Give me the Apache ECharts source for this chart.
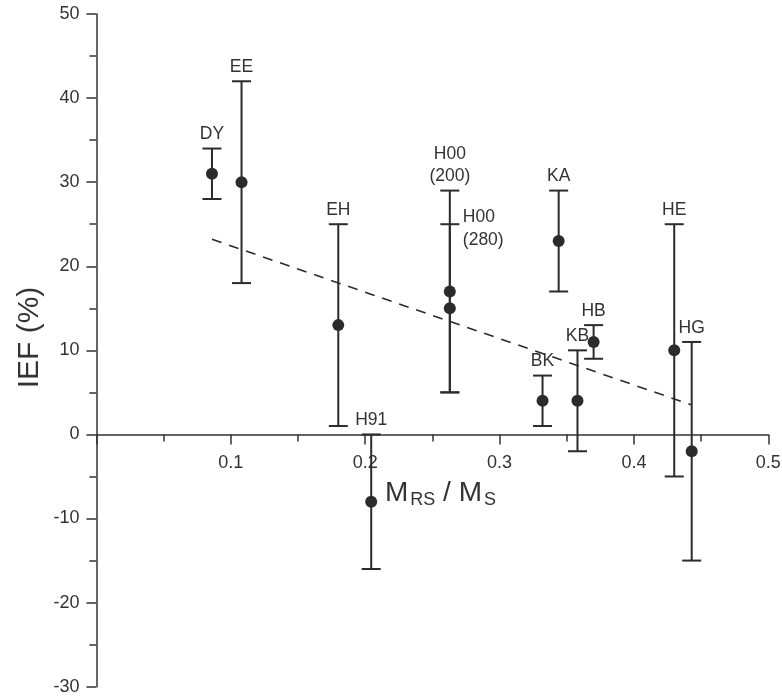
<!DOCTYPE html>
<html>
<head>
<meta charset="utf-8">
<script src="https://cdn.jsdelivr.net/npm/echarts@6/dist/echarts.min.js"></script>
<style>
  html, body { margin: 0; padding: 0; background: #fff; }
  #chart { width: 782px; height: 697px; }
</style>
</head>
<body>
<div id="chart"></div>
<script>
// Study labels, mass ratio M_RS / M_S, IEF (%) and its error range
const names = ['DY', 'EE', 'EH', 'H91', 'H00\n(200)', 'H00\n(280)', 'KA', 'BK', 'KB', 'HB', 'HE', 'HG'];
const ratio = [0.086, 0.108, 0.180, 0.2045, 0.263, 0.263, 0.344, 0.332, 0.358, 0.370, 0.430, 0.443];
const ief   = [31, 30, 13, -8, 17, 15, 23, 4, 4, 11, 10, -2];
const iefLow  = [28, 18, 1, -16, 5, 5, 17, 1, -2, 9, -5, -15];
const iefHigh = [34, 42, 25, 0, 29, 25, 29, 7, 10, 13, 25, 11];

// Linear trend drawn through the data range
const trendX = [0.086, 0.443];
const trendY = [23.2, 3.5];

// Axis ticks
const xTicks = [0, 0.1, 0.2, 0.3, 0.4, 0.5];
const yTicks = [-30, -20, -10, 0, 10, 20, 30, 40, 50];

const ink = '#2b2b2b';
const font = 'Liberation Sans, Arial, Helvetica, sans-serif';

const gridTop = 14, gridBottom = 10.3;
const plotHeight = 697 - gridTop - gridBottom;
const yMin = yTicks[0], yMax = yTicks[yTicks.length - 1];
// Lift the horizontal axis from the bottom edge up to the y = 0 line
const xAxisOffset = -plotHeight * (0 - yMin) / (yMax - yMin);

const barData = ratio.map((x, i) => [x, ief[i], iefLow[i], iefHigh[i], i]);

function renderBar(params, api) {
  const x = api.value(0);
  const i = api.value(4);
  const c = api.coord([x, api.value(1)]);
  const lo = api.coord([x, api.value(2)]);
  const hi = api.coord([x, api.value(3)]);
  const half = 9.5;
  const lineStyle = { stroke: ink, lineWidth: 2 };
  const name = names[i];
  const sideLabel = name === 'H00\n(280)';
  return {
    type: 'group',
    children: [
      { type: 'line', shape: { x1: c[0], y1: lo[1], x2: c[0], y2: hi[1] }, style: lineStyle },
      { type: 'line', shape: { x1: c[0] - half, y1: lo[1], x2: c[0] + half, y2: lo[1] }, style: lineStyle },
      { type: 'line', shape: { x1: c[0] - half, y1: hi[1], x2: c[0] + half, y2: hi[1] }, style: lineStyle },
      { type: 'circle', shape: { cx: c[0], cy: c[1], r: 6 }, style: { fill: ink } },
      {
        type: 'text',
        style: {
          text: name,
          x: sideLabel ? c[0] + 13 : c[0],
          y: sideLabel ? hi[1] - 18 : hi[1] - 3,
          align: sideLabel ? 'left' : 'center',
          verticalAlign: sideLabel ? 'top' : 'bottom',
          fill: '#333',
          font: '17.5px ' + font,
          lineHeight: 22.5
        }
      }
    ]
  };
}

const chart = echarts.init(document.getElementById('chart'), null, { renderer: 'canvas' });
chart.setOption({
  animation: false,
  backgroundColor: '#fff',
  grid: { left: 96.4, right: 13.7, top: gridTop, bottom: gridBottom, containLabel: false, outerBoundsMode: 'none' },
  xAxis: {
    type: 'value',
    min: xTicks[0],
    max: xTicks[xTicks.length - 1],
    interval: 0.1,
    position: 'bottom',
    offset: xAxisOffset,
    axisLine: { show: true, onZero: false, lineStyle: { color: '#333', width: 1.5 } },
    axisTick: { show: true, length: 10, lineStyle: { color: '#333', width: 1.5 } },
    minorTick: { show: true, splitNumber: 2, length: 7, lineStyle: { color: '#333', width: 1.5 } },
    splitLine: { show: false },
    axisLabel: {
      margin: 20,
      color: '#333',
      fontSize: 18,
      fontFamily: font,
      formatter: v => (v === 0 ? '' : String(Math.round(v * 10) / 10))
    }
  },
  yAxis: {
    type: 'value',
    min: yMin,
    max: yMax,
    interval: 10,
    axisLine: { show: true, onZero: false, lineStyle: { color: '#333', width: 1.5 } },
    axisTick: { show: true, length: 10, lineStyle: { color: '#333', width: 1.5 } },
    minorTick: { show: true, splitNumber: 2, length: 7, lineStyle: { color: '#333', width: 1.5 } },
    splitLine: { show: false },
    axisLabel: { margin: 17, color: '#333', fontSize: 18, fontFamily: font }
  },
  series: [
    {
      type: 'line',
      data: trendX.map((x, i) => [x, trendY[i]]),
      symbol: 'none',
      lineStyle: { color: ink, width: 1.6, type: [10, 8] },
      z: 1
    },
    {
      type: 'custom',
      data: barData,
      renderItem: renderBar,
      z: 2
    }
  ],
  graphic: [
    {
      type: 'text',
      left: 385,
      top: 473,
      style: {
        text: '{m|M}{s|RS}{m| / M}{s|S}',
        fill: '#333',
        rich: {
          m: { fontSize: 28, fontFamily: font, lineHeight: 30, verticalAlign: 'top', fill: '#333' },
          s: { fontSize: 18, fontFamily: font, lineHeight: 18, verticalAlign: 'bottom', padding: [18, 0, 0, 2], fill: '#333' }
        }
      }
    },
    {
      type: 'text',
      x: 30,
      y: 337.5,
      rotation: Math.PI / 2,
      style: {
        text: 'IEF (%)',
        font: '30px ' + font,
        fill: '#333',
        align: 'center',
        verticalAlign: 'middle'
      }
    }
  ]
});
</script>
</body>
</html>
